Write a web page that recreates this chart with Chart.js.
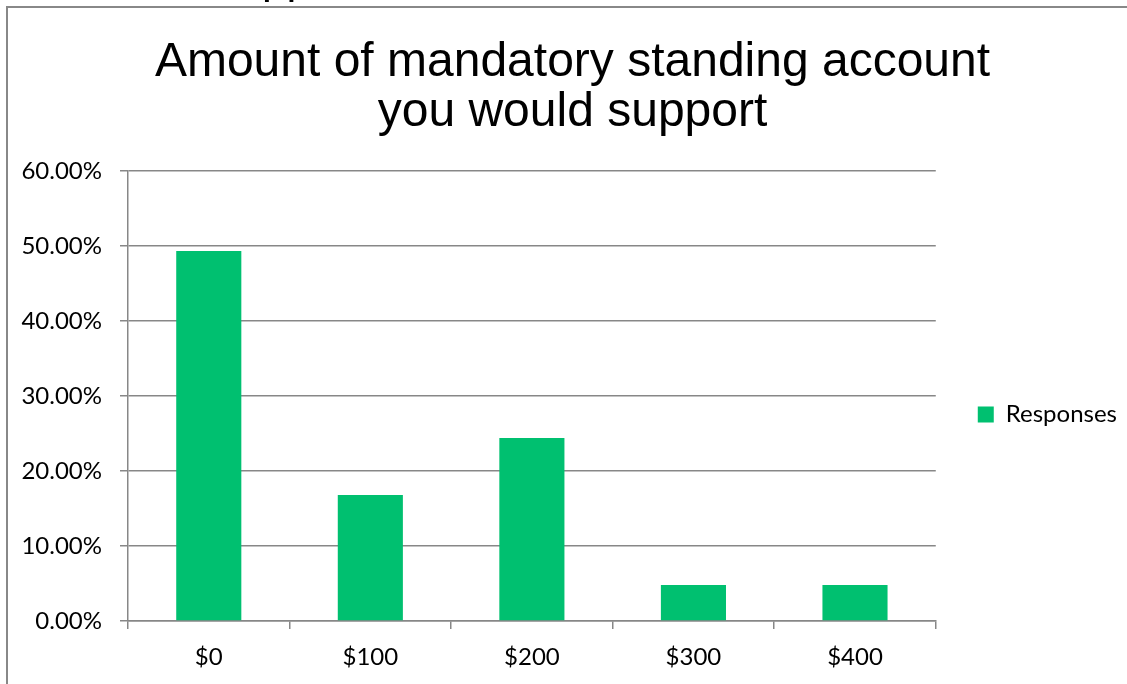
<!DOCTYPE html>
<html>
<head>
<meta charset="utf-8">
<script src="https://cdn.jsdelivr.net/npm/chart.js@4"></script>
<style>
  html, body { margin: 0; padding: 0; background: #fff; overflow: hidden; }
  #wrap { position: relative; width: 1127px; height: 684px; }
  #frame { position: absolute; left: 6px; top: 6px; right: 0; bottom: 0;
           border-left: 2px solid #888; border-top: 2px solid #888; pointer-events: none; }
  #cut { position: absolute; left: 262px; top: -47px; font: 44px "Liberation Sans", Arial, sans-serif; color: #000; }
</style>
</head>
<body>
<div id="wrap">
  <div id="cut">pp</div>
  <canvas id="chart" width="1127" height="684"></canvas>
  <div id="frame"></div>
</div>
<script>
// data
const categories = ['$0', '$100', '$200', '$300', '$400'];
const responses = [49.3, 16.8, 24.4, 4.8, 4.8];
const seriesName = 'Responses';
const titleLines = ['Amount of mandatory standing account', 'you would support'];
const yMax = 60;
const yStep = 10;

const gray = '#878787';
const tickFont = { family: 'Lato, "Open Sans", sans-serif', size: 24 };

new Chart(document.getElementById('chart').getContext('2d'), {
  type: 'bar',
  data: {
    labels: categories,
    datasets: [{
      label: seriesName,
      data: responses,
      backgroundColor: '#00c070',
      borderWidth: 0,
      categoryPercentage: 1,
      barPercentage: 0.403
    }]
  },
  options: {
    responsive: false,
    animation: false,
    layout: { padding: { left: 18, right: 0, top: 0, bottom: 0 } },
    plugins: {
      title: {
        display: true,
        text: titleLines,
        color: '#000',
        font: { family: '"Liberation Sans", Arial, sans-serif', size: 48, weight: 'normal', lineHeight: 1.04 },
        padding: { top: 38, bottom: 33 }
      },
      legend: {
        position: 'right',
        maxWidth: 192,
        // empty legend title only pushes the entry down to where it sits in the picture
        title: { display: true, text: ' ', font: { size: 24 }, padding: { top: 0, bottom: 116 } },
        labels: {
          color: '#000',
          font: tickFont,
          boxWidth: 16,
          boxHeight: 16,
          padding: 42
        }
      },
      tooltip: { enabled: false }
    },
    scales: {
      x: {
        afterFit: s => { s.height = 63; },
        grid: { drawOnChartArea: false, color: gray, lineWidth: 1.5, tickLength: 8 },
        border: { color: gray, width: 1.5 },
        ticks: { color: '#000', font: tickFont, padding: 14 }
      },
      y: {
        min: 0,
        max: yMax,
        afterFit: s => { s.width = 110; },
        grid: { color: gray, lineWidth: 1.5, tickLength: 8 },
        border: { color: gray, width: 1.5 },
        ticks: {
          stepSize: yStep,
          color: '#000',
          font: tickFont,
          padding: 18,
          callback: v => v.toFixed(2) + '%'
        }
      }
    }
  }
});
</script>
</body>
</html>
